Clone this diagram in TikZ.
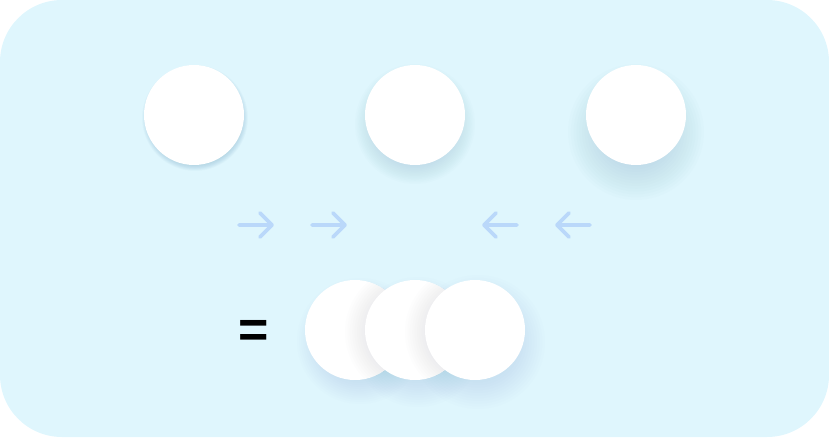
\documentclass[tikz,border=0pt]{standalone}
\usepackage{fontspec}
\setmainfont{Liberation Sans}
\usetikzlibrary{calc}
\definecolor{bg}{HTML}{DFF6FD}
\definecolor{arr}{HTML}{BAD8FA}
\definecolor{shd}{HTML}{6FA6BE}
\definecolor{ovl}{HTML}{A9B2C0}
\newcommand\softshadow[6]{%
  \foreach \k in {0,...,15}{\fill[#5,opacity=#6] (#1,#2) circle[radius={(#3+#4-2*#4*\k/15)*1pt}];}}
\begin{document}
\begin{tikzpicture}[x=1pt,y=1pt,
  ball/.style={circle,fill=white,minimum size=100pt,inner sep=0pt},
  arrw/.style={draw=arr,line width=3.6pt,line cap=round,line join=round},
  eqsign/.style={font=\bfseries\fontsize{52}{52}\selectfont,text=black,inner sep=0pt,anchor=base}]
\useasboundingbox (0,0) rectangle (829,437);
\fill[bg] (0,0) [rounded corners=62pt] rectangle (829,437);
% top shadows
\softshadow{195}{319}{49}{4}{shd}{0.03}
\softshadow{415}{313}{48}{12}{shd}{0.02}
\softshadow{636}{305}{47}{21}{shd}{0.018}
\node[ball] (t1) at (194,322) {};
\node[ball] (t2) at (415,322) {};
\node[ball] (t3) at (636,322) {};
% arrows
\coordinate (a1s) at (239,212); \coordinate (a1e) at (272,212);
\coordinate (a2s) at (312,212); \coordinate (a2e) at (345,212);
\coordinate (a3s) at (517,212); \coordinate (a3e) at (484,212);
\coordinate (a4s) at (590,212); \coordinate (a4e) at (557,212);
\draw[arrw] (a1s) -- (a1e) ($(a1e)+(-12,12)$) -- (a1e) -- ($(a1e)+(-12,-12)$);
\draw[arrw] (a2s) -- (a2e) ($(a2e)+(-12,12)$) -- (a2e) -- ($(a2e)+(-12,-12)$);
\draw[arrw] (a3s) -- (a3e) ($(a3e)+(12,12)$) -- (a3e) -- ($(a3e)+(12,-12)$);
\draw[arrw] (a4s) -- (a4e) ($(a4e)+(12,12)$) -- (a4e) -- ($(a4e)+(12,-12)$);
% equals
\node[eqsign] (eq) at (254,90) {=};
% bottom group
\softshadow{360}{96}{47}{16}{shd}{0.016}
\softshadow{418}{95}{47}{18}{shd}{0.016}
\softshadow{478}{95}{47}{20}{shd}{0.016}
\node[ball] (b1) at (355,107) {};
\begin{scope}
  \clip (355,107) circle[radius=50pt];
  \softshadow{411}{105}{48}{18}{ovl}{0.02}
\end{scope}
\node[ball] (b2) at (415,107) {};
\begin{scope}
  \clip (415,107) circle[radius=50pt];
  \softshadow{471}{105}{48}{18}{ovl}{0.02}
\end{scope}
\node[ball] (b3) at (475,107) {};
\end{tikzpicture}
\end{document}
